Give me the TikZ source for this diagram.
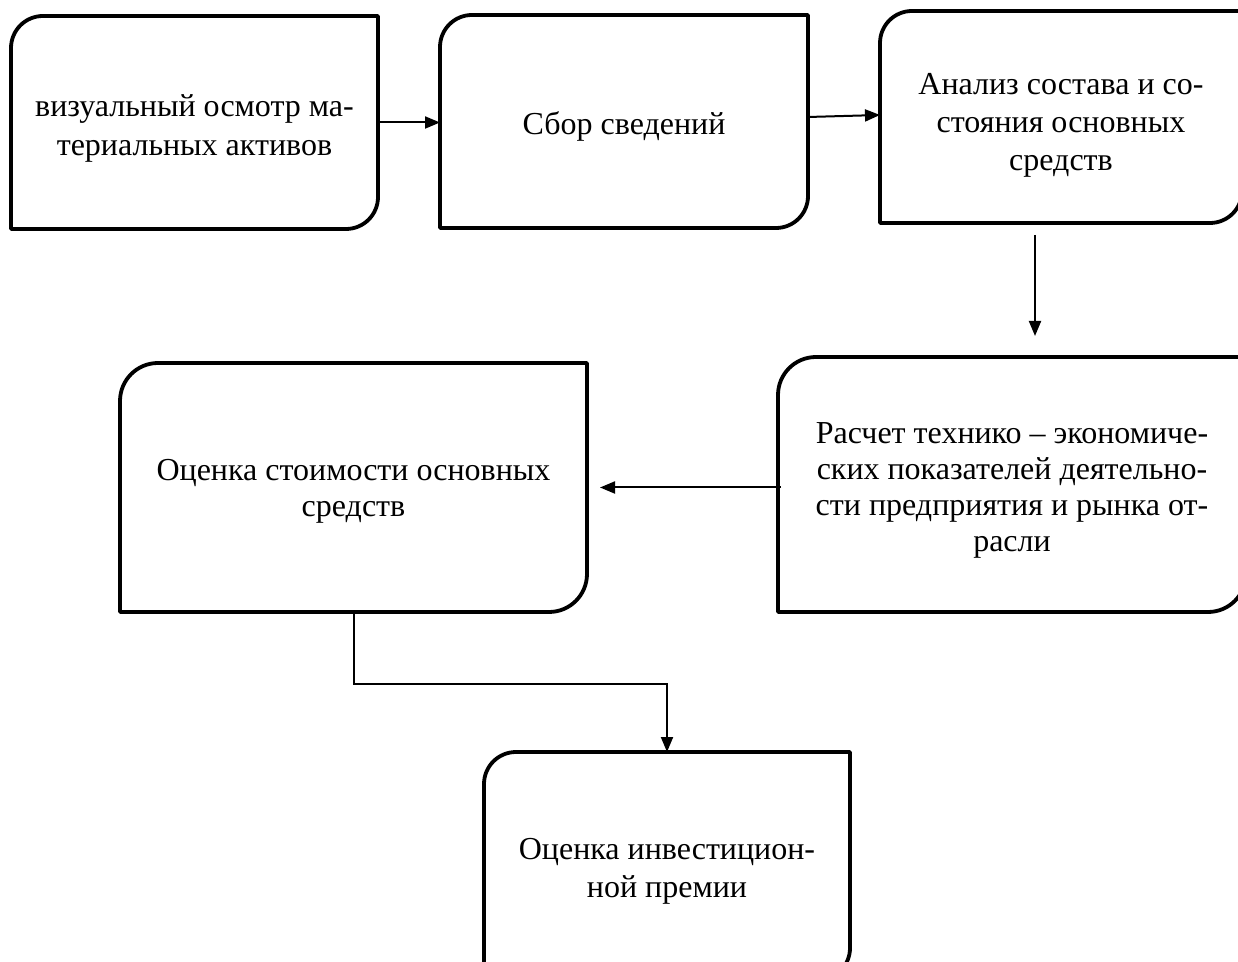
\documentclass[tikz,border=0pt]{standalone}
\usepackage{fontspec}
\setmainfont{Liberation Serif}
\usetikzlibrary{arrows.meta,calc}
\begin{document}
\begin{tikzpicture}[x=1pt,y=1pt,
  boxnode/.style={draw=none,inner sep=0pt,outer sep=0pt},
  txt/.style={inner sep=0pt,align=center,text=black},
  boxline/.style={line width=3.8pt,black,line join=round},
  arr/.style={line width=2pt,black,-{Triangle[length=15pt,width=12pt]}}]
\useasboundingbox (0,0) rectangle (1238,961);
\clip (0,0) rectangle (1238,961);
\newcommand{\rbox}[2]{%
  \draw[boxline] (#1.south west) -- ([yshift=-#2]#1.north west)
    arc[start angle=180,end angle=90,radius=#2] -- (#1.north east)
    -- ([yshift=#2]#1.south east)
    arc[start angle=0,end angle=-90,radius=#2] -- cycle;}
\node[boxnode,minimum width=367pt,minimum height=213pt] (b1) at (194.5,838.5) {};
\node[txt,font=\fontsize{32}{39}\selectfont] (t1) at ([yshift=-5.5pt]b1.center)
  {визуальный осмотр ма-\\териальных активов};
\node[boxnode,minimum width=368pt,minimum height=213pt] (b2) at (624,839.5) {};
\node[txt,font=\fontsize{32}{37}\selectfont] (t2) at ([yshift=-5pt]b2.center)
  {Сбор сведений};
\node[boxnode,minimum width=362pt,minimum height=212pt] (b3) at (1061,844) {};
\node[txt,font=\fontsize{32}{38}\selectfont] (t3) at ([yshift=-8pt]b3.center)
  {Анализ состава и со-\\стояния основных\\средств};
\node[boxnode,minimum width=468pt,minimum height=255pt] (b4) at (1012,476.5) {};
\node[txt,font=\fontsize{32}{36}\selectfont] (t4) at ([yshift=-5.5pt]b4.center)
  {Расчет технико – экономиче-\\ских показателей деятельно-\\сти предприятия и рынка от-\\расли};
\node[boxnode,minimum width=467pt,minimum height=249pt] (b5) at (353.5,473.5) {};
\node[txt,font=\fontsize{32}{36}\selectfont] (t5) at ([yshift=-3.5pt]b5.center)
  {Оценка стоимости основных\\средств};
\node[boxnode,minimum width=366pt,minimum height=228pt] (b6) at (667,95) {};
\node[txt,font=\fontsize{32}{38}\selectfont] (t6) at ([yshift=-5.5pt]b6.center)
  {Оценка инвестицион-\\ной премии};
\rbox{b1}{32pt}
\rbox{b2}{32pt}
\rbox{b3}{32pt}
\rbox{b4}{38pt}
\rbox{b5}{38pt}
\rbox{b6}{32pt}
\coordinate (c34) at (1035,0);
\draw[arr] (b1.east) -- (b1.east -| b2.west);
\draw[arr] ([yshift=4.5pt]b2.east) -- ([yshift=2pt]b3.west);
\draw[arr,shorten <=12pt,shorten >=21pt] (b3.south -| c34) -- (b4.north -| c34);
\draw[arr,shorten <=-3pt,shorten >=13pt] (b4.west |- b5.east) -- (b5.east);
\draw[arr] (b5.south) -- ++(0,-72) -| (b6.north);
\end{tikzpicture}
\end{document}
